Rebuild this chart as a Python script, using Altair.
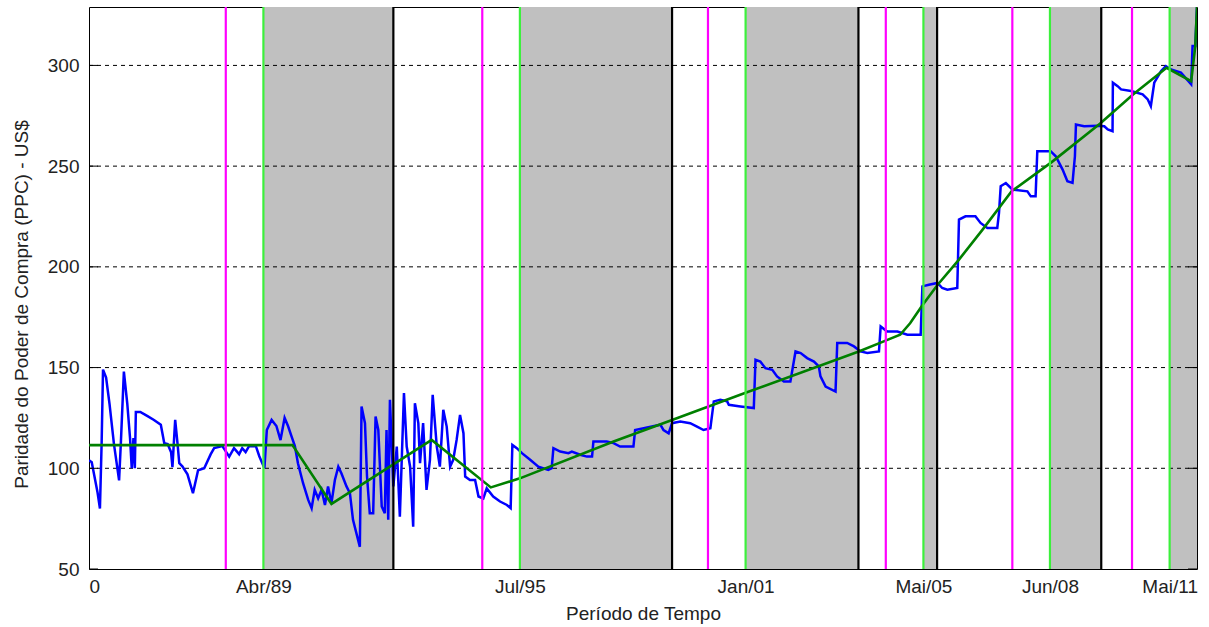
import altair as alt
import pandas as pd

# ---------------- data ----------------
blue_x = [0, 0.8, 2.5, 3.2, 3.7, 4.1, 5, 6, 7.3, 8.8, 9.3, 10.2, 11.2, 12, 12.5, 13, 13.4, 13.7, 15, 17,
          19, 21, 22, 23, 24, 24.4, 25.2, 25.9, 26.4, 27.3, 28.8, 30.4, 31.9, 33.7, 35.6, 36.6, 39, 41, 42.4, 43.9,
          44.8, 45.8, 46.8, 48.8, 49.8, 51.3, 52, 53.4, 54.8, 56, 57.2, 58.2, 59.2, 60.2, 61.1, 62.6, 64.1, 65.1, 66, 67,
          68, 69, 69.9, 70.9, 71.9, 72.9, 73.8, 75.3, 76.3, 77.2, 79.2, 79.7, 80.7, 81.3, 82.1, 83.1, 83.8, 84.6, 85.6, 86.5,
          87, 87.5, 88, 89, 90, 90.9, 92.1, 92.9, 93.9, 94.8, 95.3, 96.3, 96.8, 97.7, 98.7, 99.7, 100.5, 101.7, 102.6, 103.6,
          104.6, 105.6, 106.5, 107.5, 108.5, 109.5, 110, 111.4, 112.9, 113.9, 115.3, 116.3, 118.2, 120.2, 122.2, 123.3, 123.8, 125.1, 126.6, 129,
          131.4, 134.3, 135.3, 135.8, 137.8, 140.2, 141.2, 143.6, 145.6, 147.1, 147.5, 151.4, 153.4, 155.3, 159.2, 159.7, 162.2, 164.6, 167.1, 168,
          169.5, 170.5, 172.9, 175.8, 177.8, 179.7, 181.7, 182.7, 184.6, 186.6, 187.1, 190.5, 194.4, 194.9, 196.3, 197.8, 199.8, 201.2, 203.2, 205.1,
          206.6, 208.1, 210, 212, 213.4, 213.9, 215.4, 218.3, 218.8, 221.7, 223.7, 225.6, 227.6, 231, 231.5, 233.4, 236.4, 239.3, 243.2, 243.7,
          245.6, 248.1, 249.5, 251, 253.9, 254.4, 256.3, 259.2, 260.7, 262.7, 265.6, 266.1, 266.6, 268.1, 270, 274.4, 275.4, 276.8, 277.3, 281.2,
          282.7, 284.7, 286.1, 287.6, 288.3, 288.6, 291, 294.9, 296.9, 297.9, 299.3, 299.4, 300.8, 301.8, 304.7, 308.1, 309.6, 310.5, 311.5, 313.5,
          314.9, 316.4, 319.3, 322.3, 322.7, 323.5, 324]
blue_y = [104, 103, 88, 80, 113, 149, 145, 132, 112, 94, 112, 148, 132, 115, 100, 115, 100, 128, 128, 126,
          124, 121.6, 112.5, 112, 108, 100.6, 124, 112, 102.5, 101, 97, 87.6, 99, 100, 107, 110, 111, 105.8, 110, 107,
          110, 108, 111, 111, 106, 100, 119, 124, 121, 114, 125, 121, 116, 111, 102.5, 92.6, 84.3, 80.2, 89.3, 85.1,
          89.3, 81.8, 91, 82.7, 94.2, 100.8, 97.5, 91, 87.6, 74.4, 61, 130.7, 122.4, 95.9, 77.7, 77.7, 125.7, 119, 81, 77.7,
          119, 74.4, 134, 91, 110.8, 76, 137.3, 110.8, 100.8, 71, 132.3, 122.4, 102.5, 122.4, 89.3, 104.2, 136.5, 110.8, 100.8, 129,
          120.7, 100.8, 104.2, 114.1, 126.5, 117.4, 95.9, 94.2, 94.2, 86, 85, 90, 86, 83.5, 81.8, 80.2, 111.6, 110, 107.5, 104.2,
          100.8, 99.2, 100, 110, 108.3, 107.5, 108.3, 106.7, 105.8, 105.8, 113.3, 113.3, 112.5, 110.8, 110.8, 119, 119.9, 120.7, 121.6, 119,
          117.4, 122.4, 123.2, 122.4, 120.7, 119, 119.9, 133.2, 134, 133.2, 131.5, 130.7, 129.9, 153.9, 153, 149.7, 148.9, 145.6, 143.1, 143.1,
          158, 157.2, 154.7, 153, 150.6, 145.6, 140.6, 138.1, 162.2, 162.2, 160.5, 158, 157.2, 158, 170.4, 167.9, 167.9, 166.3, 166.3, 190.3,
          191.1, 192, 189.5, 188.7, 189.5, 223.5, 225.1, 225.1, 221.8, 219.3, 219.3, 226.8, 240, 241.6, 238.4, 237.5, 235, 235, 257.4, 257.4,
          254.9, 248.3, 242.5, 241.7, 254.9, 270.7, 269.8, 270, 269.8, 268.2, 267.3, 291.4, 289.7, 288.1, 287.3, 285.6, 283.1, 279.8, 291.4, 297.2,
          299.7, 298, 296.4, 290.6, 309.6, 309.6, 329]

trend_x = [0, 59.5, 70.9, 100.2, 117.5, 126, 153.4, 170.5, 192.4, 225.1, 232.4, 237.2, 240.1, 243.5, 248.1,
           254.4, 261.3, 269.8, 281.5, 295.6, 305.3, 315.1, 322.3, 323.5, 324]
trend_y = [111.5, 111.5, 82.3, 114.1, 90.5, 95, 113.3, 124, 137.7, 158, 163, 166.3, 172, 180.4, 191,
           203.6, 218.5, 237.5, 252, 271, 285.6, 298.8, 292.2, 309.6, 329]

magenta_x = [40, 115, 181, 233, 270, 305]
green_x = [51, 126, 192, 244, 281, 316]
black_x = [89, 170.5, 225, 248, 296]
shade_start = [51, 126, 192, 244, 281, 316]
shade_end = [89, 170.5, 225, 248, 296, 324]

grid_y = [100, 150, 200, 250, 300]
ytick_vals = [50, 100, 150, 200, 250, 300]
xtick_vals = [0, 51, 126, 192, 244, 281, 316]
xtick_text = ["0", "Abr/89", "Jul/95", "Jan/01", "Mai/05", "Jun/08", "Mai/11"]

# ---------------- frames ----------------
blue = pd.DataFrame({"x": blue_x, "y": blue_y, "i": range(len(blue_x))})
trend = pd.DataFrame({"x": trend_x, "y": trend_y, "i": range(len(trend_x))})
vlines = pd.DataFrame({
    "x": magenta_x + green_x + black_x,
    "c": ["#FF00FF"] * len(magenta_x) + ["#3CF03C"] * len(green_x) + ["#000000"] * len(black_x),
})
shade = pd.DataFrame({"s": shade_start, "e": shade_end})
grid = pd.DataFrame({"y": grid_y})

W, H = 1108, 562
FONT = "Liberation Sans"

label_map = ",".join(f"'{v}':'{t}'" for v, t in zip(xtick_vals, xtick_text))
xscale = alt.Scale(domain=[0, 324], nice=False, zero=False)
yscale = alt.Scale(domain=[50, 329], nice=False, zero=False)
xaxis = alt.Axis(values=xtick_vals, labelExpr="{" + label_map + "}[datum.value]",
                 title="Período de Tempo", grid=False, domain=False, ticks=False,
                 labelPadding=8, titlePadding=8)
yaxis = alt.Axis(values=ytick_vals, title="Paridade do Poder de Compra (PPC) - US$",
                 grid=False, domain=False, ticks=False, labelPadding=10, titlePadding=16,
                 titleY=297)


def X(field):
    return alt.X(field, type="quantitative", scale=xscale, axis=xaxis)


def Y(field):
    return alt.Y(field, type="quantitative", scale=yscale, axis=yaxis)


shade_layer = alt.Chart(shade).mark_rect(color="#C0C0C0").encode(
    x=X("s"), x2="e", y=alt.value(0), y2=alt.value(H))

grid_layer = alt.Chart(grid).mark_rule(color="black", strokeDash=[4, 4], strokeWidth=1).encode(y=Y("y"))

tick_df = pd.DataFrame({"y": ytick_vals})
tick_left = alt.Chart(tick_df).mark_rule(color="black", strokeWidth=1).encode(
    y=Y("y"), x=alt.value(0), x2=alt.value(9))
tick_right = alt.Chart(tick_df).mark_rule(color="black", strokeWidth=1).encode(
    y=Y("y"), x=alt.value(W - 9), x2=alt.value(W))

blue_layer = alt.Chart(blue).mark_line(color="#0000FF", strokeWidth=2.5, clip=True).encode(
    x=X("x"), y=Y("y"), order="i:Q")
trend_layer = alt.Chart(trend).mark_line(color="#008000", strokeWidth=2.6, clip=True).encode(
    x=X("x"), y=Y("y"), order="i:Q")

vline_layer = alt.Chart(vlines).mark_rule(strokeWidth=2.2).encode(
    x=X("x"), color=alt.Color("c:N", scale=None))

chart = alt.layer(shade_layer, grid_layer, blue_layer, trend_layer, vline_layer, tick_left, tick_right).properties(
    width=W, height=H,
    autosize=alt.AutoSizeParams(type="none"),
    padding={"left": 89, "top": 7, "right": 12, "bottom": 58},
).configure_view(
    stroke="black", strokeWidth=1
).configure_axis(
    labelFont=FONT, titleFont=FONT, labelFontSize=19, titleFontSize=19,
    labelColor="#222222", titleColor="#222222", titleFontWeight="normal"
)

chart.save("out.html", embed_options={"renderer": "svg", "actions": False})
